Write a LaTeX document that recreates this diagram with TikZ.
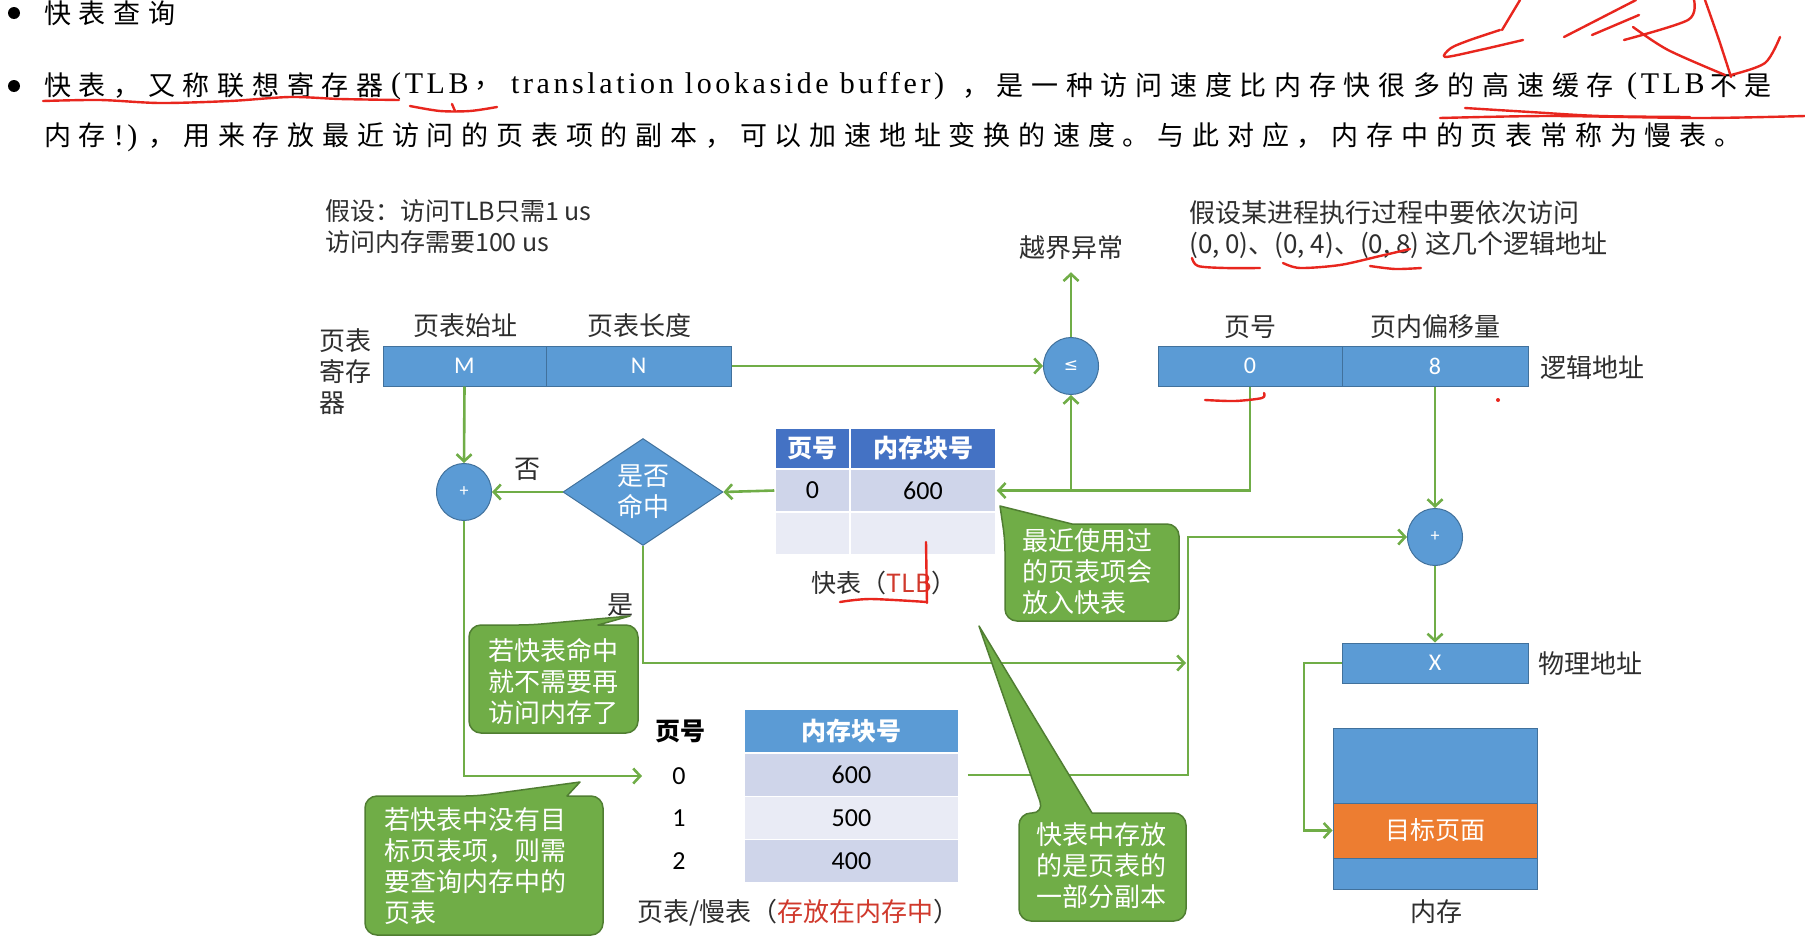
\documentclass[tikz,border=0pt]{standalone}
\usepackage{fontspec}
\setmainfont{Noto Sans CJK SC}
\newfontfamily\calfont{Carlito}
\newfontfamily\dejafont{DejaVu Sans}
\newfontfamily\topserif[LetterSpace=12]{Liberation Serif}
\usetikzlibrary{arrows.meta,shapes.geometric}

\definecolor{boxblue}{HTML}{5B9BD5}
\definecolor{boxedge}{HTML}{41719C}
\definecolor{hdrblue}{HTML}{4472C4}
\definecolor{rowA}{HTML}{CFD5EA}
\definecolor{rowB}{HTML}{E9EBF5}
\definecolor{lineg}{HTML}{70AD47}
\definecolor{calledge}{HTML}{507E32}
\definecolor{orng}{HTML}{ED7D31}
\definecolor{ink}{HTML}{E8261E}
\definecolor{txt}{HTML}{2E2E2E}
\definecolor{redtxt}{HTML}{D0392C}

% fixed-pitch setting of a run of full-width characters
\makeatletter
\newcommand\pitched[2]{\@tfor\pitchtok:=#2\do{\makebox[#1][l]{\pitchtok}}}
\makeatother

\begin{document}
\begin{tikzpicture}[x=1pt,y=-1pt,
  bluebox/.style={draw=boxedge, line width=1pt, fill=boxblue, text=white, inner sep=0pt,
    font=\calfont\fontsize{24}{28}\selectfont},
  roundop/.style={ellipse, draw=boxedge, line width=1pt, fill=boxblue, text=white,
    minimum width=55pt, minimum height=57pt, inner sep=0pt},
  flow/.style={draw=lineg, line width=2.6pt, -{Straight Barb[length=7pt,width=15pt]}},
  lbl/.style={text=txt, inner sep=0pt, font=\fontsize{26}{31}\selectfont},
  cell/.style={draw=white, line width=1.5pt, inner sep=0pt, text=black,
    font=\calfont\fontsize{26}{30}\selectfont},
  hdr/.style={cell, text=white, font=\bfseries\fontsize{25}{30}\selectfont},
  callout/.style={fill=lineg, draw=calledge, line width=1.5pt, line join=round},
  calltext/.style={text=white, align=left, inner sep=0pt, font=\fontsize{26}{31}\selectfont},
  toptext/.style={text=black, inner sep=0pt, anchor=west, font=\fontsize{27}{30}\selectfont},
  serifpart/.style={toptext, font=\topserif\fontsize{30}{32}\selectfont},
  inkline/.style={draw=ink, line width=2.4pt, line cap=round, line join=round},
  dot/.style={circle, fill=black, minimum size=12pt, inner sep=0pt}
]
\useasboundingbox (0,0) rectangle (1805,937);
\fill[white] (0,0) rectangle (1805,937);

% ---------- lecture text ----------
\node[dot] (b1) at (14,13) {};
\node[toptext] (l1) at (44,13) {\pitched{34.7pt}{快表查询}};
\node[dot] (b2) at (14,86) {};
\node[toptext] (l2a) at (44,86) {\pitched{34.7pt}{快表，又称联想寄存器}};
\node[serifpart] (l2b) at (391,86) {(TLB};
\node[toptext] (l2bc) at (474,86) {，};
\node[serifpart] (l2c) at (511,86) {translation lookaside buffer)};
\node[toptext] (l2d) at (962,86) {\pitched{34.7pt}{，是一种访问速度比内存快很多的高速缓存}};
\node[serifpart] (l2e) at (1627,86) {(TLB};
\node[toptext] (l2f) at (1710,86) {\pitched{34.7pt}{不是}};
\node[toptext] (l3) at (44,137) {\pitched{34.8pt}{内存{\topserif\fontsize{30}{32}\selectfont !)}，用来存放最近访问的页表项的副本，可以加速地址变换的速度。与此对应，内存中的页表常称为慢表。}};

% ---------- notes ----------
\node[lbl, align=left, anchor=west, font=\fontsize{25}{31}\selectfont] (assume1) at (325,226.5)
  {假设：访问TLB只需1 us\\访问内存需要100 us};
\node[lbl, align=left, anchor=west] (assume2) at (1189,229.5)
  {假设某进程执行过程中要依次访问\\(0, 0)、(0, 4)、(0, 8) 这几个逻辑地址};

% ---------- page table register ----------
\node[bluebox, minimum width=163pt, minimum height=40pt] (regM) at (464.5,366) {M};
\node[bluebox, minimum width=185pt, minimum height=40pt] (regN) at (638.5,366) {N};
\node[lbl] (regbase) at (465,326) {页表始址};
\node[lbl] (reglen) at (639,326) {页表长度};
\node[lbl, align=left] (reglbl) at (345,372) {页表\\寄存\\器};

% ---------- bound check ----------
\node[roundop, font=\dejafont\fontsize{17}{20}\selectfont] (leq) at (1071,366) {≤};
\node[lbl] (excl) at (1071,248) {越界异常};

% ---------- logical address ----------
\node[bluebox, minimum width=184pt, minimum height=40pt] (la0) at (1250,366) {0};
\node[bluebox, minimum width=186pt, minimum height=40pt] (la8) at (1435,366) {8};
\node[lbl] (pgno) at (1250,327) {页号};
\node[lbl] (pgoff) at (1435,327) {页内偏移量};
\node[lbl, anchor=west] (lalbl) at (1540,368) {逻辑地址};

% ---------- TLB ----------
\node[hdr, fill=hdrblue, minimum width=75pt, minimum height=41pt] (th1) at (812.5,448.5) {页号};
\node[hdr, fill=hdrblue, minimum width=146pt, minimum height=41pt] (th2) at (923,448.5) {内存块号};
\node[cell, fill=rowA, minimum width=75pt, minimum height=43pt] (t11) at (812.5,490.5) {0};
\node[cell, fill=rowA, minimum width=146pt, minimum height=43pt] (t12) at (923,490.5) {600};
\node[cell, fill=rowB, minimum width=75pt, minimum height=43pt] (t21) at (812.5,533.5) {};
\node[cell, fill=rowB, minimum width=146pt, minimum height=43pt] (t22) at (923,533.5) {};
\node[lbl, font=\fontsize{25}{30}\selectfont] (tlbcap) at (884,583) {快表（\textcolor{redtxt}{TLB}）};

% ---------- hit test ----------
\node[diamond, fill=boxblue, draw=boxedge, line width=1pt, minimum width=160pt,
  minimum height=107pt, inner sep=0pt] (hit) at (643,492) {};
\node[text=white, align=center, inner sep=0pt, font=\fontsize{26}{31}\selectfont] (hittxt) at (hit.center) {是否\\命中};
\node[roundop, font=\calfont\fontsize{18}{20}\selectfont] (plus1) at (464,492) {+};
\node[lbl] (no) at (527,469) {否};
\node[lbl] (yes) at (620,605) {是};

% ---------- page table in memory ----------
\node[hdr, fill=boxblue, minimum width=215pt, minimum height=43pt] (ph) at (851.5,731) {内存块号};
\node[cell, fill=rowA, minimum width=215pt, minimum height=43pt] (p0) at (851.5,775) {600};
\node[cell, fill=rowB, minimum width=215pt, minimum height=43pt] (p1) at (851.5,818) {500};
\node[cell, fill=rowA, minimum width=215pt, minimum height=43pt] (p2) at (851.5,861) {400};
\node[lbl, text=black, font=\bfseries\fontsize{25}{30}\selectfont] (pnh) at (680,731) {页号};
\node[lbl, text=black, font=\calfont\fontsize{26}{30}\selectfont] (pn0) at (679,776) {0};
\node[lbl, text=black, font=\calfont\fontsize{26}{30}\selectfont] (pn1) at (679,818) {1};
\node[lbl, text=black, font=\calfont\fontsize{26}{30}\selectfont] (pn2) at (679,861) {2};
\node[lbl, anchor=west] (ptcap) at (637,913) {页表/慢表（\textcolor{redtxt}{存放在内存中}）};

% ---------- physical address and memory ----------
\node[roundop, font=\calfont\fontsize{18}{20}\selectfont] (plus2) at (1435,537) {+};
\node[bluebox, minimum width=186pt, minimum height=40pt] (xbox) at (1435,663) {X};
\node[lbl, anchor=west] (phys) at (1538,664) {物理地址};
\node[draw=boxedge, line width=1pt, fill=boxblue, minimum width=204pt, minimum height=161pt, inner sep=0pt] (mem) at (1435,808.5) {};
\node[draw=boxedge, line width=1pt, fill=orng, text=white, minimum width=204pt, minimum height=55pt,
  inner sep=0pt, font=\fontsize{25}{30}\selectfont] (page) at (1435,830.5) {目标页面};
\node[lbl] (memlbl) at (1436,912) {内存};

% ---------- connectors ----------
\draw[flow] (regN.east) -- (leq.west);
\draw[flow] (leq.north) -- ([yshift=-12pt]excl.south);
\draw[flow] (la0.south) |- (t12.east);
\coordinate (tap) at (leq.south |- t12.east);
\draw[flow] (tap) -- (leq.south);
\draw[flow] (t11.west) -- (hit.east);
\draw[flow] (hit.west) -- (plus1.east);
\draw[flow] (regM.south) -- (plus1.north);
\coordinate (missin) at (642,776);
\draw[flow] (plus1.south) |- (missin);
\coordinate (hitjoin) at (1186,663);
\draw[flow] (hit.south) |- (hitjoin);
\coordinate (busbot) at (1188,775);
\draw[flow] ([xshift=8pt]p0.east) -- (busbot) |- (plus2.west);
\draw[flow] (la8.south) -- (plus2.north);
\draw[flow] (plus2.south) -- (xbox.north);
\coordinate (xleft) at (1304,663);
\draw[flow] (xbox.west) -- (xleft) |- (page.west);

% ---------- callouts ----------
\draw[callout] (598,625) [rounded corners=12pt] -- (638,625) -- (638,733) -- (469,733) -- (469,625) -- (530,625) [sharp corners] -- (630,616) -- cycle;
\node[calltext] (c1) at (553,681) {若快表命中\\就不需要再\\访问内存了};

\draw[callout] (567,796) [rounded corners=12pt] -- (603,796) -- (603,935) -- (365,935) -- (365,796) -- (477,796) [sharp corners] -- (580,782) -- cycle;
\node[calltext] (c2) at (475,866) {若快表中没有目\\标页表项，则需\\要查询内存中的\\页表};

\draw[callout] (1072,524) [rounded corners=12pt] -- (1179,524) -- (1179,621) -- (1005,621) -- (1005,540) [sharp corners] -- (1000,506) -- cycle;
\node[calltext] (c3) at (1087,572) {最近使用过\\的页表项会\\放入快表};

\draw[callout] (1092,813) [rounded corners=12pt] -- (1186,813) -- (1186,921) -- (1019,921) -- (1019,813) -- (1044,813) [sharp corners] -- (979,626) -- cycle;
\node[calltext] (c4) at (1101,866) {快表中存放\\的是页表的\\一部分副本};

% ---------- red pen marks ----------
\draw[inkline] plot[smooth] coordinates {(43,101) (100,100) (160,103) (230,101) (290,97) (340,99) (399,100)};
\draw[inkline] plot[smooth] coordinates {(410,106) (440,111) (470,111) (497,107)};
\draw[inkline] (452,104) -- (455,111);
\draw[inkline] plot[smooth] coordinates {(1440,118) (1550,116) (1700,118) (1805,116)};
\draw[inkline] plot[smooth] coordinates {(1465,108) (1530,112) (1600,116) (1690,117)};
\draw[inkline] plot[smooth] coordinates {(1500,30) (1470,40) (1451,48) (1445,57) (1480,50) (1523,40)};
\draw[inkline] (1502,30) -- (1520,0);
\draw[inkline] (1564,37) -- (1636,0);
\draw[inkline] (1592,35) -- (1639,15);
\draw[inkline] plot[smooth] coordinates {(1624,40) (1688,20) (1694,0)};
\draw[inkline] plot[smooth] coordinates {(1633,27) (1668,50) (1725,75)};
\draw[inkline] plot[smooth] coordinates {(1705,0) (1719,40) (1731,77)};
\draw[inkline] plot[smooth] coordinates {(1731,75) (1765,63) (1780,37)};
\draw[inkline] plot[smooth] coordinates {(1192,258) (1198,266) (1225,268) (1260,268)};
\draw[inkline] plot[smooth] coordinates {(1283,263) (1300,268) (1340,265) (1380,256) (1410,249)};
\draw[inkline] plot[smooth] coordinates {(1370,266) (1395,269) (1421,268)};
\draw[inkline] plot[smooth] coordinates {(1205,400) (1235,401) (1262,398) (1264,393)};
\fill[ink] (1498,400) circle (2pt);
\draw[inkline] (926,542) -- (927,603);
\draw[inkline] plot[smooth] coordinates {(840,602) (870,599) (927,602)};
\end{tikzpicture}
\end{document}
